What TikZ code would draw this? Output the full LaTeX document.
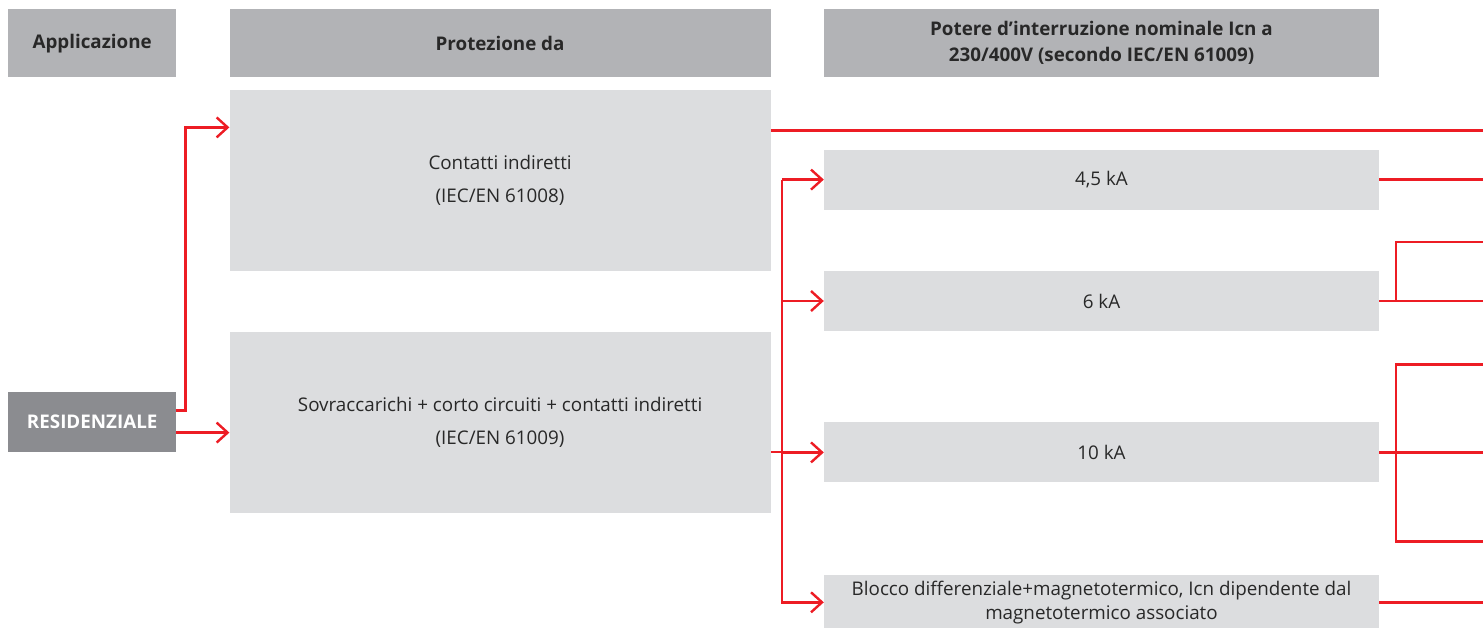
\documentclass[tikz,border=0pt]{standalone}
\usepackage{fontspec}
\setmainfont{Open Sans}
\usetikzlibrary{arrows.meta,positioning,calc}

\definecolor{abbred}{RGB}{237,28,36}
\definecolor{headgray}{RGB}{178,179,182}
\definecolor{boxgray}{RGB}{220,221,223}
\definecolor{resgray}{RGB}{139,140,144}
\definecolor{txtgray}{RGB}{40,40,40}

\tikzset{
  head/.style={fill=headgray, text=txtgray, font=\fontsize{18.8}{26}\selectfont\bfseries,
    align=center, inner sep=0pt, minimum height=68pt},
  panel/.style={fill=boxgray, text=txtgray, font=\fontsize{18.8}{33}\selectfont,
    align=center, inner sep=0pt},
  link/.style={draw=abbred, line width=2.4pt},
  feed/.style={link, -{Straight Barb[length=11pt,width=20pt]}},
}

\begin{document}
\begin{tikzpicture}[x=1pt, y=-1pt]
  \useasboundingbox (0,0) rectangle (1483,628);
  % headers
  \node[head, anchor=north west, minimum width=168pt] at (8,9) (app) {Applicazione};
  \node[head, right=53pt of app, minimum width=541pt] (prot) {Protezione da};
  \node[head, right=53pt of prot, minimum width=555pt] (icn)
    {Potere d’interruzione nominale Icn a\\230/400V (secondo IEC/EN 61009)};
  % application
  \node[head, below=314pt of app, minimum width=168pt, minimum height=60pt,
    fill=resgray, text=white] (res) {RESIDENZIALE};
  % protection
  \node[panel, below=12pt of prot, minimum width=541pt, minimum height=181pt] (contatti)
    {Contatti indiretti\\(IEC/EN 61008)};
  \node[panel, below=61pt of contatti, minimum width=541pt, minimum height=181pt] (sovracc)
    {Sovraccarichi + corto circuiti + contatti indiretti\\(IEC/EN 61009)};
  % breaking capacity
  \node[panel, below=72pt of icn, minimum width=555pt, minimum height=60pt] (ka45) {4,5 kA};
  \node[panel, below=61pt of ka45, minimum width=555pt, minimum height=60pt] (ka6) {6 kA};
  \node[panel, below=91pt of ka6, minimum width=555pt, minimum height=60pt] (ka10) {10 kA};
  \node[panel, below=92pt of ka10, minimum width=555pt, minimum height=55pt,
    font=\fontsize{18.8}{24}\selectfont] (blocco)
    {Blocco differenziale+magnetotermico, Icn dipendente dal\\magnetotermico associato};

  \coordinate (edge) at (1483,0);

  % application -> protection
  \coordinate (r1) at ([yshift=11pt]res.east);
  \coordinate (r2) at ([yshift=-11pt]res.east);
  \draw[feed] (r1) -- ++(9,0) |- ([yshift=-38pt]contatti.north west);
  \draw[feed] (r2) -- (r2 -| sovracc.west);

  % protection -> capacity
  \coordinate (c1) at ([yshift=-41pt]contatti.north east);
  \draw[link] (c1) -- (c1 -| edge);
  \coordinate (s1) at ([yshift=-29.5pt]sovracc.east);
  \coordinate (bus) at ([xshift=11pt]s1);
  \draw[link] (s1) -- (bus);
  \draw[feed] (bus |- ka45.west) -- (ka45.west);
  \draw[feed] (bus |- ka45.west) |- (blocco.west);
  \draw[feed] (bus |- ka6.west) -- (ka6.west);
  \draw[feed] (bus |- ka10.west) -- (ka10.west);

  % capacity -> right edge
  \draw[link] (ka45.east) -- (ka45.east -| edge);
  \draw[link] (ka6.east) -- (ka6.east -| edge);
  \coordinate (k6) at ([xshift=17pt]ka6.east);
  \path (ka6.east -| edge) ++(0,-59) coordinate (t6);
  \draw[link] (t6) -| (k6);
  \coordinate (k10) at ([xshift=17pt]ka10.east);
  \path (ka10.east -| edge) ++(0,-88) coordinate (t10);
  \path (ka10.east -| edge) ++(0,89) coordinate (u10);
  \draw[link] (t10) -| (k10) |- (u10);
  \draw[link] (ka10.east) -- (ka10.east -| edge);
  \draw[link] (blocco.east) -- (blocco.east -| edge);
\end{tikzpicture}
\end{document}
